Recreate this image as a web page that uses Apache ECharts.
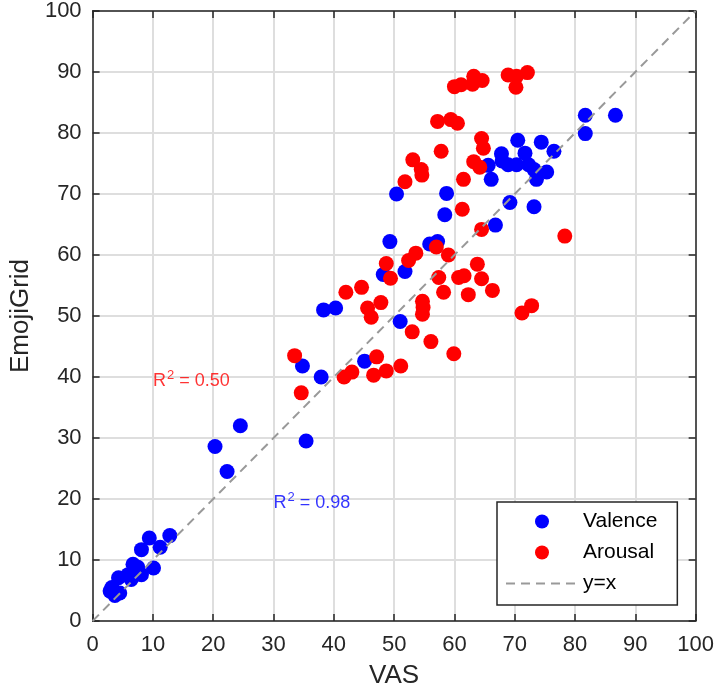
<!DOCTYPE html>
<html>
<head>
<meta charset="utf-8">
<script src="https://cdn.jsdelivr.net/npm/echarts@6/dist/echarts.min.js"></script>
<style>html,body{margin:0;padding:0;background:#fff;}#c{width:717px;height:694px;}</style>
</head>
<body>
<div id="c"></div>
<script>
var valenceVAS = [2.9,3.7,4.5,4.3,5.9,6.7,8.1,6.4,8.1,9.4,10.1,11.2,12.8,7.5,3.2,
  20.3,22.3,24.5,35.4,34.8,37.9,38.3,40.3,45.1,51.0,48.2,51.8,49.3,55.9,57.2,50.4,58.7,58.4,66.8,
  81.7,86.7,81.7,70.5,74.4,76.5,71.7,67.8,67.9,68.9,70.3,72.3,73.2,75.3,73.6,65.6,66.1,69.2,73.2];
var valenceEmoji = [4.9,4.2,4.6,7.1,7.6,9.3,7.6,6.8,11.7,13.6,8.7,12.1,14.0,8.8,5.5,
  28.6,24.5,32.0,29.5,41.8,40.0,51.0,51.3,42.6,49.1,56.8,57.3,62.2,61.8,62.2,70.0,70.1,66.6,64.9,
  82.9,82.9,79.9,78.8,78.5,77.0,76.7,76.6,75.4,74.8,74.8,74.8,74.0,73.6,72.4,74.7,72.4,68.6,67.9];
var arousalVAS = [33.5,34.6,41.7,43.0,46.6,47.1,48.7,51.1,53.0,56.1,59.9,42.0,44.6,45.6,46.2,47.8,48.7,49.4,
  52.4,53.6,54.7,54.8,54.7,57.0,59.0,57.4,58.2,60.7,61.6,62.3,63.8,64.5,66.3,72.8,71.2,61.3,64.5,78.3,
  51.8,53.1,54.5,54.6,57.8,61.5,63.2,64.2,64.5,64.8,57.2,59.4,60.5,60.0,61.1,63.0,63.2,64.6,68.9,70.2,70.3,72.1];
var arousalEmoji = [43.5,37.4,40.0,40.8,40.3,43.3,41.0,41.8,47.4,45.8,43.8,53.9,54.7,51.3,49.8,52.2,58.6,56.2,
  59.1,60.3,52.4,51.4,50.3,61.3,60.0,56.3,53.9,56.3,56.6,53.5,58.5,56.1,54.2,51.7,50.5,67.5,64.2,63.1,
  72.0,75.6,74.0,73.1,77.0,72.4,75.3,74.4,79.1,77.5,81.9,82.2,81.6,87.6,87.9,88.0,89.3,88.6,89.5,87.5,89.3,89.9];
var identityLine = [0, 100];
var xTickLabels = ['0','10','20','30','40','50','60','70','80','90','100'];
var annotationText = ['R{sup|2} = 0.50', 'R{sup|2} = 0.98'];
var annotationPos = [[10, 39.4], [30, 19.4]];
var seriesNames = ['Valence', 'Arousal', 'y=x'];

function zip(a, b) { return a.map(function (v, i) { return [v, b[i]]; }); }

var FF = '"Liberation Sans", Arial, Helvetica, sans-serif';
var axisColor = '#262626';
var chart = echarts.init(document.getElementById('c'), null, { renderer: 'canvas' });

function mkAxis(pos, main, name) {
  return {
    type: 'value', min: 0, max: 100, interval: 10, position: pos,
    name: main ? name : '', nameLocation: 'middle',
    nameGap: pos === 'bottom' ? 42 : 49,
    nameTextStyle: { fontSize: 26, color: axisColor, fontFamily: FF },
    axisLine: { show: true, onZero: false, lineStyle: { color: axisColor, width: 1.5 } },
    axisTick: { show: true, inside: true, length: 7, lineStyle: { color: axisColor, width: 1.5 } },
    axisLabel: {
      show: main, fontSize: 22, color: axisColor, fontFamily: FF, margin: pos === 'bottom' ? 13 : 11,
      formatter: function (v) { return xTickLabels[Math.round(v / 10)]; }
    },
    splitLine: { show: main, lineStyle: { color: '#dedede', width: 2 } }
  };
}

var option = {
  animation: false,
  backgroundColor: '#ffffff',
  grid: { left: 86, right: 21, top: 9, bottom: 72, containLabel: false },
  xAxis: [mkAxis('bottom', true, 'VAS'), mkAxis('top', false, '')],
  yAxis: [mkAxis('left', true, 'EmojiGrid'), mkAxis('right', false, '')],
  legend: {
    orient: 'vertical', left: 497, top: 502,
    padding: [9, 20, 11, 8], itemGap: 10, itemWidth: 72, itemHeight: 14,
    borderColor: axisColor, borderWidth: 1.5, backgroundColor: '#ffffff',
    textStyle: { fontSize: 21, color: '#000', fontFamily: FF },
    data: [
      { name: seriesNames[0], icon: 'circle' },
      { name: seriesNames[1], icon: 'circle' },
      { name: seriesNames[2], itemStyle: { opacity: 0 } }
    ]
  },
  series: [
    {
      name: seriesNames[0], type: 'scatter', symbol: 'circle', symbolSize: 15,
      itemStyle: { color: '#0000ff', opacity: 1 },
      data: zip(valenceVAS, valenceEmoji), z: 3
    },
    {
      name: seriesNames[1], type: 'scatter', symbol: 'circle', symbolSize: 15,
      itemStyle: { color: '#ff0000', opacity: 1 },
      data: zip(arousalVAS, arousalEmoji), z: 3
    },
    {
      name: seriesNames[2], type: 'line', symbol: 'none', z: 4,
      lineStyle: { color: '#999999', width: 2, type: [9, 6] },
      itemStyle: { color: '#999999' },
      data: zip(identityLine, identityLine)
    },
    {
      name: 'annotR', type: 'scatter', symbolSize: 0, silent: true, z: 5,
      data: [{ value: annotationPos[0], label: { color: '#ff0000', rich: { sup: { fontSize: 13, color: '#ff0000', verticalAlign: 'top', padding: [0, 0, 11, 1], fontFamily: FF } } } }],
      label: { show: true, position: 'right', distance: 0, fontSize: 18, fontFamily: FF,
        formatter: function () { return annotationText[0]; } }
    },
    {
      name: 'annotV', type: 'scatter', symbolSize: 0, silent: true, z: 5,
      data: [{ value: annotationPos[1], label: { color: '#0000ff', rich: { sup: { fontSize: 13, color: '#0000ff', verticalAlign: 'top', padding: [0, 0, 11, 1], fontFamily: FF } } } }],
      label: { show: true, position: 'right', distance: 0, fontSize: 18, fontFamily: FF,
        formatter: function () { return annotationText[1]; } }
    }
  ]
};
chart.setOption(option);
</script>
</body>
</html>
